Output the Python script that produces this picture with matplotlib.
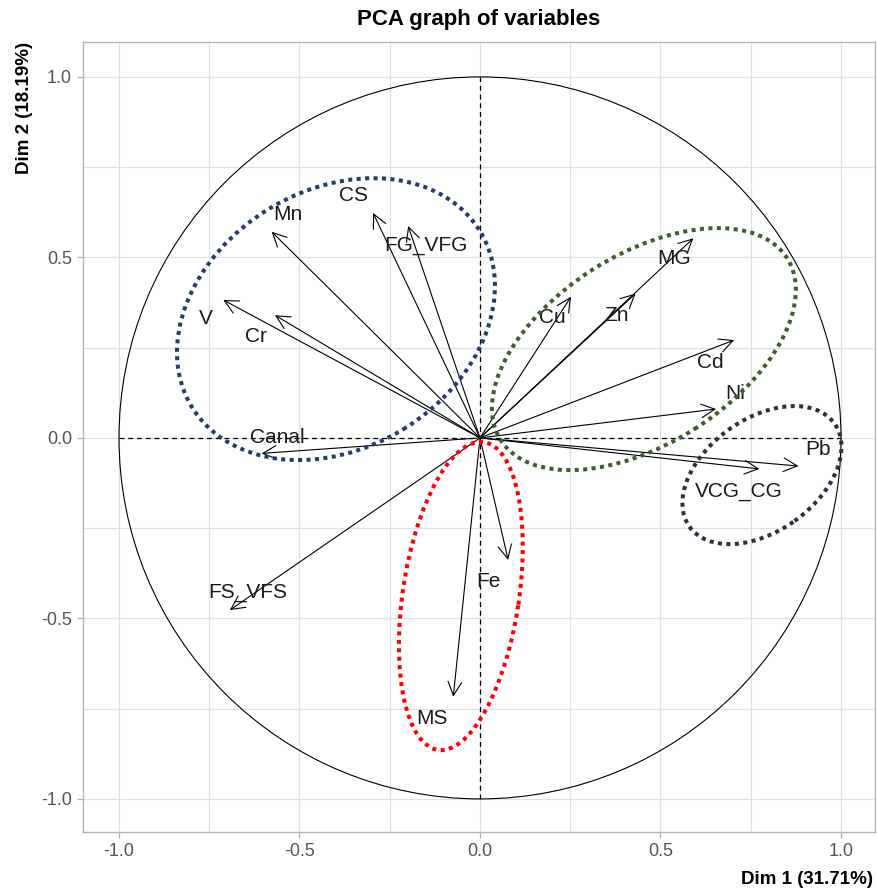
import numpy as np
import matplotlib
matplotlib.use("Agg")
import matplotlib.pyplot as plt
from matplotlib.patches import Ellipse, Circle

plt.rcParams['font.family'] = ['Liberation Sans', 'DejaVu Sans']

# ---- data ----
variables = ['Mn', 'CS', 'FG_VFG', 'V', 'Cr', 'Canal', 'FS_VFS', 'MS', 'Fe',
             'Cu', 'Zn', 'MG', 'Cd', 'Ni', 'Pb', 'VCG_CG']
dim1 = [-0.577, -0.296, -0.199, -0.711, -0.568, -0.605, -0.693, -0.074, 0.078,
        0.252, 0.431, 0.591, 0.704, 0.654, 0.882, 0.774]
dim2 = [0.571, 0.623, 0.587, 0.382, 0.340, -0.043, -0.477, -0.717, -0.338,
        0.391, 0.400, 0.553, 0.271, 0.080, -0.078, -0.086]

# group ellipses (centre x, centre y, width, height, angle)
ell_cx = [-0.399, 0.454, 0.781, -0.053]
ell_cy = [0.329, 0.246, -0.103, -0.438]
ell_w = [0.935, 0.940, 0.493, 0.862]
ell_h = [0.715, 0.524, 0.312, 0.322]
ell_angle = [31.4, 32.4, 35.4, 81.5]
ell_colors = ['#223D6E', '#3E5E2C', '#2B3142', '#FF0000']

ticks = [-1.0, -0.5, 0.0, 0.5, 1.0]
tick_labels = ['-1.0', '-0.5', '0.0', '0.5', '1.0']

# label offsets in pixels (dx right, dy down)
label_off = {'Mn': (16, -17), 'CS': (-20, -18), 'FG_VFG': (18, 20), 'V': (-17, 18),
             'Cr': (-19, 21), 'Canal': (16, -16), 'FS_VFS': (18, -18), 'MS': (-21, 22),
             'Fe': (-20, 22), 'Cu': (-19, 21), 'Zn': (-19, 22), 'MG': (-19, 20),
             'Cd': (-24, 22), 'Ni': (19, -16), 'Pb': (20, -17), 'VCG_CG': (-21, 23)}

# ---- figure ----
fig = plt.figure(figsize=(8.78, 8.92), dpi=100)
ax = fig.add_axes([83 / 878, 60 / 892, 792 / 878, 790 / 892])
ax.set_xlim(-1.0997, 1.0942)
ax.set_ylim(-1.0917, 1.0967)

grid_c = '#E0E0E0'
ax.set_xticks(ticks)
ax.set_yticks(ticks)
ax.set_xticklabels(tick_labels)
ax.set_yticklabels(tick_labels)
ax.set_xticks(np.arange(-1.0, 1.01, 0.25), minor=True)
ax.set_yticks(np.arange(-1.0, 1.01, 0.25), minor=True)
ax.grid(which='both', color=grid_c, linewidth=0.9)
ax.tick_params(which='minor', length=0)
ax.tick_params(which='major', length=4, width=0.9, color='#B3B3B3',
               labelsize=13, labelcolor='#555555', pad=4)
ax.set_axisbelow(True)
for s in ax.spines.values():
    s.set_color('#B3B3B3')
    s.set_linewidth(1.0)

# unit circle
ax.add_patch(Circle((0, 0), 1.0, fill=False, edgecolor='black', linewidth=0.8, zorder=2))
ax.plot([-1, 1], [0, 0], linestyle=(0, (4, 3)), color='black', linewidth=0.9, zorder=2)
ax.plot([0, 0], [-1, 1], linestyle=(0, (4, 3)), color='black', linewidth=0.9, zorder=2)

# arrows and labels
for name, x, y in zip(variables, dim1, dim2):
    ax.annotate('', xy=(x, y), xytext=(0, 0),
                arrowprops=dict(arrowstyle='->,head_length=0.7,head_width=0.35',
                                color='black', lw=0.8, shrinkA=0, shrinkB=0,
                                mutation_scale=14), zorder=3)
    dx, dy = label_off[name]
    ax.annotate(name, xy=(x, y), xytext=(dx * 0.72, -dy * 0.72),
                textcoords='offset points', ha='center', va='center',
                fontsize=15, color='#1A1A1A', zorder=4)

# group ellipses
for cx, cy, w, h, a, c in zip(ell_cx, ell_cy, ell_w, ell_h, ell_angle, ell_colors):
    ax.add_patch(Ellipse((cx, cy), w, h, angle=a, fill=False, edgecolor=c,
                         linewidth=2.9, linestyle=(0, (1, 1.1)), zorder=5))

ax.set_title('PCA graph of variables', fontsize=16, fontweight='bold', pad=12)
fig.text(873 / 878, 1 - 879 / 892, 'Dim 1 (31.71%)', ha='right', va='center',
         fontsize=13.5, fontweight='bold')
fig.text(25 / 878, 1 - 42 / 892, 'Dim 2 (18.19%)', ha='center', va='top',
         rotation=90, fontsize=13.5, fontweight='bold')

fig.savefig('out.png', dpi=100)
